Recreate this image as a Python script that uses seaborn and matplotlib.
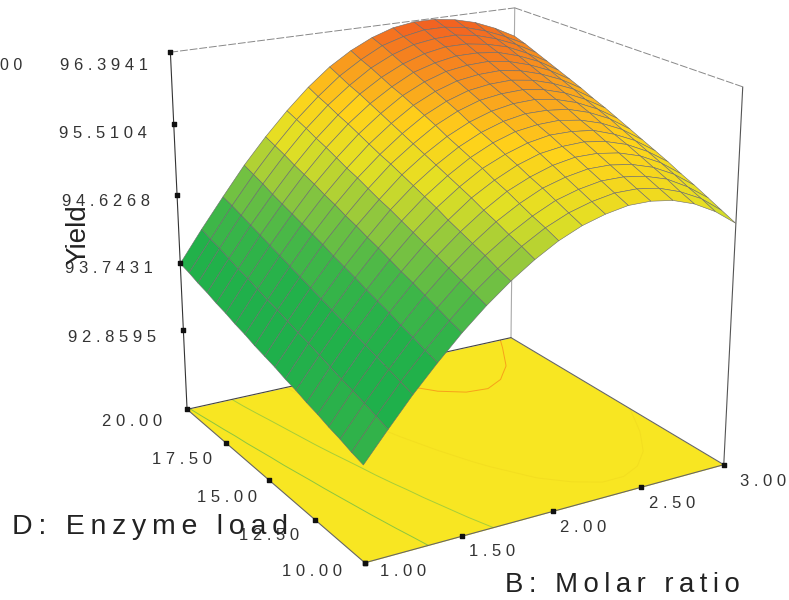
import numpy as np
import matplotlib
matplotlib.use("Agg")
import matplotlib.pyplot as plt
import seaborn as sns

sns.set_theme(style="white")
plt.rcParams['font.family'] = ['Liberation Sans', 'DejaVu Sans']

# =========================
# DATA
# =========================

molar = [1.0, 1.125, 1.25, 1.375, 1.5, 1.625, 1.75, 1.875, 2.0, 2.125, 2.25, 2.375, 2.5, 2.625, 2.75, 2.875, 3.0]
enzyme = [10.0, 10.56, 11.11, 11.67, 12.22, 12.78, 13.33, 13.89, 14.44, 15.0,
          15.56, 16.11, 16.67, 17.22, 17.78, 18.33, 18.89, 19.44, 20.0]

# one row per enzyme value, one column per molar value
yield_rows = [
    [92.94, 93.28, 93.61, 93.91, 94.19, 94.44, 94.66, 94.85, 95.01, 95.13, 95.21, 95.26, 95.26, 95.22, 95.13, 94.99, 94.80],
    [92.98, 93.33, 93.66, 93.96, 94.24, 94.50, 94.72, 94.92, 95.08, 95.20, 95.28, 95.33, 95.33, 95.29, 95.20, 95.07, 94.88],
    [93.03, 93.38, 93.71, 94.02, 94.30, 94.56, 94.79, 94.98, 95.14, 95.27, 95.35, 95.40, 95.40, 95.36, 95.28, 95.14, 94.96],
    [93.07, 93.43, 93.76, 94.07, 94.36, 94.62, 94.85, 95.05, 95.21, 95.34, 95.42, 95.47, 95.47, 95.43, 95.35, 95.22, 95.04],
    [93.12, 93.47, 93.81, 94.13, 94.42, 94.68, 94.91, 95.11, 95.28, 95.40, 95.49, 95.54, 95.54, 95.50, 95.42, 95.29, 95.11],
    [93.16, 93.52, 93.86, 94.18, 94.47, 94.74, 94.97, 95.18, 95.34, 95.47, 95.56, 95.60, 95.61, 95.57, 95.49, 95.36, 95.19],
    [93.21, 93.57, 93.91, 94.23, 94.53, 94.80, 95.04, 95.24, 95.41, 95.53, 95.62, 95.67, 95.67, 95.64, 95.55, 95.43, 95.26],
    [93.25, 93.62, 93.96, 94.29, 94.59, 94.86, 95.10, 95.30, 95.47, 95.60, 95.69, 95.73, 95.74, 95.70, 95.62, 95.50, 95.33],
    [93.30, 93.66, 94.01, 94.34, 94.64, 94.92, 95.16, 95.36, 95.53, 95.66, 95.75, 95.80, 95.80, 95.77, 95.69, 95.57, 95.40],
    [93.34, 93.71, 94.06, 94.39, 94.70, 94.97, 95.22, 95.42, 95.59, 95.72, 95.81, 95.86, 95.87, 95.83, 95.75, 95.63, 95.47],
    [93.38, 93.76, 94.11, 94.45, 94.75, 95.03, 95.28, 95.48, 95.66, 95.79, 95.88, 95.92, 95.93, 95.89, 95.81, 95.69, 95.54],
    [93.43, 93.80, 94.16, 94.50, 94.81, 95.09, 95.33, 95.54, 95.72, 95.85, 95.94, 95.98, 95.99, 95.95, 95.87, 95.76, 95.60],
    [93.47, 93.85, 94.21, 94.55, 94.86, 95.14, 95.39, 95.60, 95.78, 95.91, 96.00, 96.04, 96.05, 96.01, 95.93, 95.82, 95.67],
    [93.52, 93.90, 94.26, 94.60, 94.92, 95.20, 95.45, 95.66, 95.84, 95.97, 96.06, 96.10, 96.11, 96.07, 95.99, 95.88, 95.73],
    [93.56, 93.94, 94.31, 94.65, 94.97, 95.26, 95.51, 95.72, 95.89, 96.03, 96.11, 96.16, 96.16, 96.13, 96.05, 95.94, 95.79],
    [93.61, 93.99, 94.36, 94.70, 95.02, 95.31, 95.56, 95.78, 95.95, 96.08, 96.17, 96.22, 96.22, 96.18, 96.11, 95.99, 95.85],
    [93.65, 94.04, 94.41, 94.76, 95.08, 95.37, 95.62, 95.83, 96.01, 96.14, 96.23, 96.27, 96.28, 96.24, 96.16, 96.05, 95.91],
    [93.70, 94.08, 94.46, 94.81, 95.13, 95.42, 95.67, 95.89, 96.06, 96.20, 96.28, 96.33, 96.33, 96.29, 96.21, 96.10, 95.97],
    [93.74, 94.13, 94.50, 94.86, 95.18, 95.47, 95.73, 95.95, 96.12, 96.25, 96.34, 96.38, 96.38, 96.34, 96.27, 96.16, 96.02],
]

z_ticks = [92.8595, 93.7431, 94.6268, 95.5104, 96.3941]
z_labels = ["9 6 . 3 9 4 1", "9 5 . 5 1 0 4", "9 4 . 6 2 6 8", "9 3 . 7 4 3 1", "9 2 . 8 5 9 5"]
d_ticks = [20, 17.5, 15, 12.5, 10]
d_labels = ["2 0 . 0 0", "1 7 . 5 0", "1 5 . 0 0", "1 2 . 5 0", "1 0 . 0 0"]
b_ticks = [1, 1.5, 2, 2.5, 3]
b_labels = ["1 . 0 0", "1 . 5 0", "2 . 0 0", "2 . 5 0", "3 . 0 0"]
contour_levels = [93.79, 94.52, 95.35, 96.1]
z_floor = 91.79

B, D = np.meshgrid(molar, enzyme)
Z = np.array(yield_rows)

cmap = sns.blend_palette(["#37B34A", "#1FB04B", "#22B14A", "#45B748", "#8CC63F",
                          "#E3E024", "#FFD21A", "#F7931E", "#F15A22"], as_cmap=True)
norm = plt.Normalize(92.83, 96.4)

# =========================
# AXES
# =========================

fig = plt.figure(figsize=(7.89, 6), dpi=100)
ax = fig.add_axes([103/789, -2.5/600, 670/789, 670/600], projection='3d', computed_zorder=False)
ax.view_init(elev=19.406, azim=-120.484)
ax.set_proj_type('persp', focal_length=0.556)
ax.set_box_aspect((1, 0.98, 0.955))
ax.set_axis_off()

# floor with the contours of the surface
ax.plot_surface(B[[0, -1]][:, [0, -1]], D[[0, -1]][:, [0, -1]], np.full((2, 2), z_floor),
                color="#F8E622", shade=False, linewidth=0, zorder=1)
ax.contour(B, D, Z, levels=contour_levels, zdir='z', offset=z_floor,
           colors=["#8CC63F", "#A6CE39", "#F3DE20", "#F7A11A"], linewidths=0.7, zorder=2)


def edge(x, y, z, color="#555555", lw=0.7, ls='-', zo=0):
    ax.plot(x, y, z, color=color, lw=lw, ls=ls, zorder=zo)


# box
edge([1, 1], [20, 20], [z_floor, z_ticks[-1]], "#333333", 0.8)
edge([3, 3], [20, 20], [z_floor, z_ticks[-1]], "#AAAAAA", 0.8)
edge([3, 3], [10, 10], [z_floor, z_ticks[-1]], "#555555", 0.8)
edge([1, 3], [20, 20], [z_ticks[-1]]*2, "#888888", 0.7, (0, (8, 2)))
edge([3, 3], [20, 10], [z_ticks[-1]]*2, "#888888", 0.7, (0, (8, 2)))
edge([1, 3], [20, 20], [z_floor]*2, "#444444", 0.8, zo=3)
edge([3, 3], [20, 10], [z_floor]*2, "#666666", 0.8, zo=3)
edge([1, 3], [10, 10], [z_floor]*2, "#666666", 0.8, zo=3)
edge([1, 1], [20, 10], [z_floor]*2, "#666666", 0.8, zo=3)

# surface
ax.plot_surface(B, D, Z, facecolors=cmap(norm(Z)), rstride=1, cstride=1, shade=False,
                edgecolor="#6b6b6b", linewidth=0.4, zorder=5, antialiased=True)

ax.set_xlim(1, 3)
ax.set_ylim(10, 20)
ax.set_zlim(z_floor, z_ticks[-1])

# ticks
ax.scatter([1]*5, [20]*5, z_ticks, marker='s', s=9, color="#111111", zorder=6, depthshade=False)
ax.scatter([1]*5, d_ticks, [z_floor]*5, marker='s', s=9, color="#111111", zorder=6, depthshade=False)
ax.scatter(b_ticks, [10]*5, [z_floor]*5, marker='s', s=9, color="#111111", zorder=6, depthshade=False)

# =========================
# TEXT
# =========================


def px(x, y, s, **kw):
    fig.text(x/789, 1-y/600, s, va='center', **{'ha': 'center', 'color': "#333333", 'fontsize': 12, **kw})


for x, y, s in zip([103.5, 102.5, 106, 109, 112.5], [65, 133, 201, 269, 337], z_labels):
    px(x, y, s)
for x, y, s in zip([132, 181.5, 227, 269, 312.5], [422, 460, 497, 535, 572], d_labels):
    px(x, y, s)
for x, y, s in zip([403, 492, 583, 672, 763], [572, 552, 528, 504, 481], b_labels):
    px(x, y, s)

px(0, 65, "0 0", ha='left', fontsize=11.5)
ts = "\u2009"
px(150, 527, ts.join("D: Enzyme load"), fontsize=20.5, color="#222222")
px(622, 585, ts.join("B: Molar ratio"), fontsize=19.8, color="#222222")
px(78, 235, "Yield", fontsize=20, color="#222222", rotation=90)

fig.savefig("out.png", dpi=100)
